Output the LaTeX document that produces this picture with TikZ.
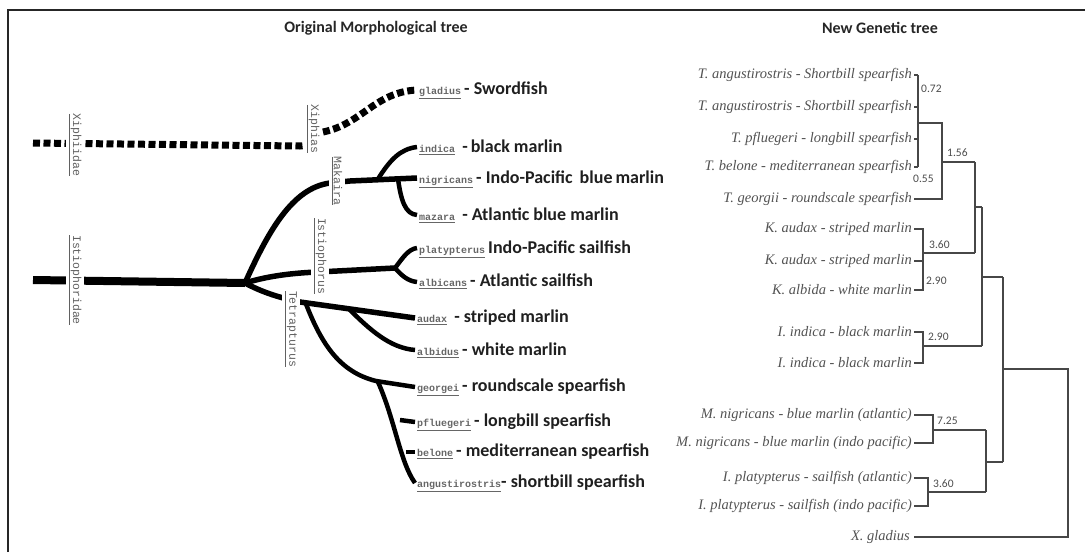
\documentclass[tikz,border=0pt]{standalone}
\usepackage{fontspec}
\setmainfont{Liberation Serif}
\newfontfamily\carl{Carlito}
\newfontfamily\monof{Liberation Mono}
\newcommand\spn[1]{{\monof\fontsize{10}{12}\selectfont\color{black!60}\underline{#1}}}
\begin{document}
\begin{tikzpicture}[x=1pt,y=-1pt,
  tit/.style={inner sep=0pt,font=\carl\bfseries\fontsize{16}{18}\selectfont,text=black!85},
  lab/.style={anchor=west,inner sep=0pt,font=\carl\bfseries\fontsize{18}{20}\selectfont,text=black!88},
  rot/.style={rotate=-90,fill=white,inner xsep=1pt,inner ysep=3pt,font=\monof\fontsize{11.5}{12}\selectfont,text=black!62},
  leaf/.style={anchor=east,inner sep=0pt,font=\itshape\fontsize{14.5}{16}\selectfont,text=black!68},
  num/.style={anchor=west,inner sep=0pt,font=\carl\fontsize{11.5}{13}\selectfont,text=black!70},
  br/.style={line width=1.4pt,draw=black!72,line join=miter},
  trunk/.style={line width=8pt,line join=round},
  limb/.style={line width=5.5pt,line join=round},
  twig/.style={line width=4.5pt,line join=round},
  dashlimb/.style={line width=7pt,dash pattern=on 7pt off 3.5pt}
]
\useasboundingbox (0,0) rectangle (1085,552);
% frame
\draw[line width=1.6pt,black!85] (8,552) -- (8,10) -- (1085,10);
% titles
\node[tit] (t1) at (376,28) {Original Morphological tree};
\node[tit] (t2) at (880,28) {New Genetic tree};

% ---------------- left tree ----------------
\coordinate (xs) at (33,143);
\coordinate (xk) at (318,134);
\coordinate (xg) at (417,90);
\coordinate (is) at (33,280);
\coordinate (n0) at (245,283);
\coordinate (mk) at (350,181);
\coordinate (ind) at (417,147);
\coordinate (nig) at (417,178);
\coordinate (maz) at (417,215);
\coordinate (ist) at (395,268);
\coordinate (pla) at (417,248);
\coordinate (alb) at (417,282);
\coordinate (aud) at (415,318);
\coordinate (ald) at (415,350);
\coordinate (geo) at (415,387);
\coordinate (pfl) at (415,422);
\coordinate (bel) at (415,452);
\coordinate (ang) at (415,483);

% Xiphiidae dashed
\draw[dashlimb] (xs) -- (300,146) .. controls (310,146) and (313,138) .. (xk);
\draw[dashlimb] (323,132) .. controls (362,124) and (375,92) .. (xg);
% Istiophoridae
\draw[trunk] (is) -- (n0);
\draw[limb] (n0) .. controls (268,232) and (292,188) .. (330,183) -- (mk) -- (nig);
\draw[twig] (378,179) .. controls (390,160) and (400,149) .. (ind);
\draw[twig] (398,179) .. controls (401,200) and (405,214) .. (maz);
\draw[limb] (n0) .. controls (268,276) and (292,273) .. (318,272) -- (ist);
\draw[twig] (ist) .. controls (402,259) and (408,249) .. (pla);
\draw[twig] (ist) .. controls (402,276) and (408,281) .. (alb);
\draw[limb] (n0) .. controls (260,291) and (276,297) .. (300,302) -- (aud);
\draw[twig] (348,308) .. controls (370,330) and (390,348) .. (ald);
\draw[twig] (306,304) .. controls (322,345) and (340,372) .. (376,381) -- (geo);
\draw[twig] (378,382) .. controls (395,420) and (400,462) .. (ang);
\draw[twig] (400,420) -- (pfl);
\draw[twig] (406,452) -- (bel);

% rotated group labels
\node[rot] (lxd) at (75,145) {\underline{Xiphiidae}};
\node[rot] (lid) at (75,280) {\underline{Istiophoridae}};
\node[rot] (lxp) at (313,129) {\underline{Xiphias}};
\node[rot] (lmk) at (337,181) {\underline{Makaira}};
\node[rot] (lis) at (320,256) {\underline{Istiophorus}};
\node[rot] (lte) at (291,329) {\underline{Tetrapturus}};

% species labels
\node[lab] (sg) at (419,90) {\spn{gladius}\,- Swordfish};
\node[lab] (si) at (419,147) {\spn{indica}\, -\,black marlin};
\node[lab] (sn) at (419,179) {\spn{nigricans}\,- Indo-Pacific\, blue\,marlin};
\node[lab] (sm) at (419,215) {\spn{mazara}\, - Atlantic blue marlin};
\node[lab] (sp) at (419,249) {\spn{platypterus}\,Indo-Pacific sailfish};
\node[lab] (sa) at (419,281) {\spn{albicans}\,- Atlantic sailfish};
\node[lab] (su) at (417,318) {\spn{audax}\, - striped marlin};
\node[lab] (sw) at (417,350) {\spn{albidus}\,- white marlin};
\node[lab] (sr) at (417,387) {\spn{georgei}\,- roundscale spearfish};
\node[lab] (sl) at (417,422) {\spn{pfluegeri}\,- longbill spearfish};
\node[lab] (se) at (417,452) {\spn{belone}\,- mediterranean spearfish};
\node[lab] (ss) at (417,483) {\spn{angustirostris}- shortbill spearfish};

% ---------------- right tree ----------------
\node[leaf] (L1) at (912,75) {T. angustirostris - Shortbill spearfish};
\node[leaf] (L2) at (912,107) {T. angustirostris - Shortbill spearfish};
\node[leaf] (L3) at (912,139) {T. pfluegeri - longbill spearfish};
\node[leaf] (L4) at (912,167) {T. belone - mediterranean spearfish};
\node[leaf] (L5) at (912,199) {T. georgii - roundscale spearfish};
\node[leaf] (L6) at (912,229) {K. audax - striped marlin};
\node[leaf] (L7) at (912,261) {K. audax - striped marlin};
\node[leaf] (L8) at (912,290) {K. albida - white marlin};
\node[leaf] (L9) at (912,332) {I. indica - black marlin};
\node[leaf] (L10) at (912,363) {I. indica - black marlin};
\node[leaf] (L11) at (912,415) {M. nigricans - blue marlin (atlantic)};
\node[leaf] (L12) at (912,443) {M. nigricans - blue marlin (indo pacific)};
\node[leaf] (L13) at (912,478) {I. platypterus - sailfish (atlantic)};
\node[leaf] (L14) at (912,506) {I. platypterus - sailfish (indo pacific)};
\node[leaf] (L15) at (910,537) {X. gladius};

% clade A
\foreach \n in {L1,L2,L3,L4} \draw[br] ([xshift=2pt]\n.east) -- ++(4,0);
\draw[br] (918,75) -- (918,167);
\draw[line width=2.6pt,black!72] (918,80) -- (918,104);
\draw[line width=2.6pt,black!72] (918,141) -- (918,164);
\draw[br] (918,123) -- (942,123) -- (942,199) -- ([xshift=2pt]L5.east);
\draw[br] (942,162) -- (975,162);
% clade K
\draw[br] ([xshift=2pt]L6.east) -- (923,229) -- (923,290) -- ([xshift=2pt]L8.east);
\draw[br] ([xshift=2pt]L7.east) -- (923,261);
\draw[line width=2.6pt,black!72] (923,262) -- (923,288);
\draw[br] (923,253) -- (975,253);
\draw[br] (975,162) -- (975,253);
\draw[br] (975,207) -- (982,207);
% clade indica
\draw[br] ([xshift=2pt]L9.east) -- (923,332) -- (923,363) -- ([xshift=2pt]L10.east);
\draw[br] (923,346) -- (982,346);
\draw[br] (982,207) -- (982,346);
\draw[br] (982,277) -- (1003,277);
% clade M
\draw[br] ([xshift=2pt]L11.east) -- (933,415) -- (933,443) -- ([xshift=2pt]L12.east);
\draw[br] (933,430) -- (986,430);
% clade I.plat
\draw[br] ([xshift=2pt]L13.east) -- (928,478) -- (928,506) -- ([xshift=2pt]L14.east);
\draw[br] (928,492) -- (986,492);
\draw[br] (986,430) -- (986,492);
\draw[br] (986,462) -- (1003,462);
\draw[br] (1003,277) -- (1003,462);
\draw[br] (1003,369) -- (1068,369) -- (1068,537) -- ([xshift=4pt]L15.east);

% support values
\node[num] (v1) at (921,89) {0.72};
\node[num] (v2) at (913,179) {0.55};
\node[num] (v3) at (947,153) {1.56};
\node[num] (v4) at (929,245) {3.60};
\node[num] (v5) at (926,281) {2.90};
\node[num] (v6) at (928,337) {2.90};
\node[num] (v7) at (937,421) {7.25};
\node[num] (v8) at (933,484) {3.60};
\end{tikzpicture}
\end{document}
